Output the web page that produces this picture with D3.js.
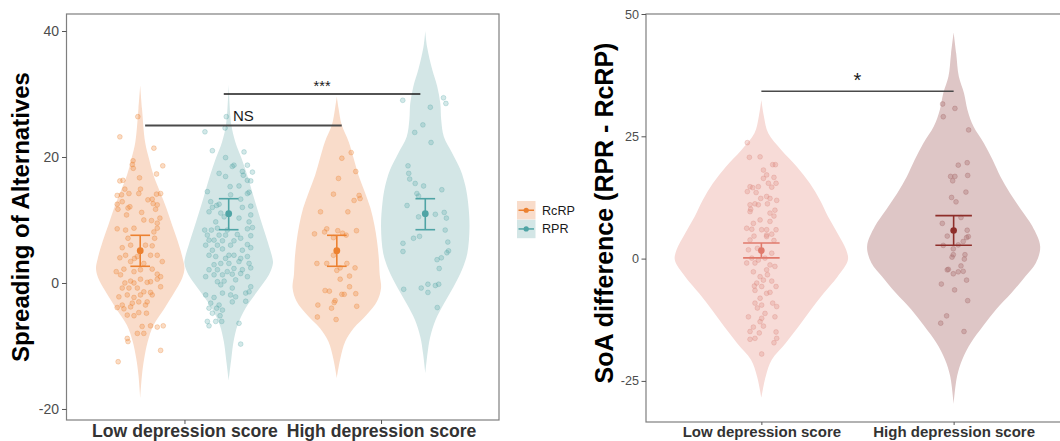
<!DOCTYPE html>
<html><head><meta charset="utf-8">
<script src="https://cdn.jsdelivr.net/npm/d3@7"></script>
<style>body{margin:0;background:#fff}svg{display:block}text{font-family:"Liberation Sans",Arial,Helvetica,sans-serif}</style>
</head><body><svg id="c" width="1060" height="441"></svg>
<script>
// ---------- DATA ----------
const categories = ["Low depression score", "High depression score"];
const groups = ["RcRP", "RPR"];
const leftTicks = [-20, 0, 20, 40];
const rightTicks = [-25, 0, 25, 50];

// summary (mean and error bar limits) per category
const rcrpMean = [5.13, 5.13], rcrpLow = [2.65, 2.65], rcrpHigh = [7.57, 7.57];
const rprMean = [11.0, 11.0], rprLow = [8.46, 8.46], rprHigh = [13.38, 13.38];
const diffMean = [1.64, 5.73], diffLow = [0.14, 2.73], diffHigh = [3.2, 8.79];

// violin profiles: [value, relative density]
const violinLowRcRP = [[31.4,0],[27.7,0.04],[22.4,0.11],[19.7,0.2],[17.1,0.3],[14.4,0.45],[11.9,0.59],[9.2,0.72],[6.6,0.85],[3.9,0.96],[2.3,1.0],[0.8,0.95],[-1.4,0.78],[-4.0,0.55],[-6.7,0.3],[-9.3,0.17],[-12.0,0.09],[-14.6,0.04],[-18.3,0]];
const violinLowRPR = [[31.5,0],[25.1,0.06],[22.4,0.15],[19.8,0.29],[17.1,0.42],[14.5,0.53],[11.9,0.64],[9.2,0.76],[6.6,0.88],[3.9,0.99],[3.1,1.0],[1.3,0.91],[-1.4,0.64],[-4.0,0.38],[-6.7,0.2],[-9.3,0.11],[-12.0,0.06],[-15.5,0]];
const violinHighRcRP = [[29.6,0],[27.7,0.04],[25.1,0.11],[22.4,0.27],[19.8,0.38],[17.1,0.49],[14.5,0.63],[11.9,0.76],[9.2,0.85],[6.6,0.91],[3.9,0.95],[1.3,0.97],[-0.8,1.0],[-2.9,0.91],[-5.0,0.68],[-7.2,0.38],[-9.3,0.19],[-12.0,0.08],[-15.1,0]];
const violinHighRPR = [[40.0,0],[37.5,0.04],[33.8,0.16],[31.2,0.27],[28.5,0.34],[25.9,0.36],[23.2,0.42],[20.6,0.61],[17.9,0.8],[15.3,0.91],[12.6,0.97],[8.9,1.0],[4.7,0.95],[2.1,0.83],[-0.6,0.64],[-3.3,0.42],[-5.9,0.23],[-8.6,0.11],[-11.2,0.05],[-14.3,0]];
const violinDiffLow = [[32.4,0],[29.0,0.03],[25.6,0.08],[22.2,0.23],[18.8,0.41],[15.4,0.56],[11.9,0.68],[8.6,0.77],[5.2,0.88],[1.8,0.98],[-0.3,1.0],[-3.7,0.88],[-7.1,0.72],[-10.5,0.57],[-13.9,0.43],[-17.3,0.28],[-20.7,0.12],[-24.1,0.05],[-28.4,0]];
const violinDiffHigh = [[46.2,0],[41.9,0.03],[37.2,0.06],[33.8,0.12],[30.4,0.16],[27.0,0.23],[23.6,0.35],[20.2,0.45],[16.8,0.54],[13.4,0.65],[10.0,0.78],[6.6,0.91],[2.5,1.0],[-0.9,0.95],[-3.6,0.83],[-7.0,0.67],[-10.4,0.49],[-13.8,0.34],[-17.2,0.2],[-20.6,0.1],[-24.0,0.04],[-29.7,0]];

// individual observations: [jitter (-1..1), value]
const pointsLowRcRP = [[-0.1,26.4],[-0.85,23.2],[0.57,21.4],[-0.3,19.4],[-0.33,18.8],[-0.29,18.2],[0.94,18.6],[0.68,17.3],[-0.85,16.2],[-0.72,16.3],[-0.03,16.7],[-0.64,14.9],[0.01,14.9],[-0.96,13.9],[-0.78,14.0],[-0.47,14.2],[-0.06,14.2],[0.68,14.1],[0.85,14.2],[0.32,13.2],[0.5,13.3],[0.54,12.6],[0.71,12.4],[-0.96,12.5],[-0.75,12.9],[-0.93,11.7],[-0.43,12.1],[-0.51,11.9],[0.06,11.2],[0.64,11.7],[-0.57,10.8],[0.82,10.3],[-0.96,8.6],[-0.61,8.4],[0.15,10.0],[0.47,9.9],[0.71,9.5],[-0.26,8.7],[0.71,8.7],[0.57,8.1],[-0.51,7.1],[-0.75,5.6],[-0.4,6.0],[0.22,6.0],[0.5,5.9],[0.6,7.1],[0.43,4.4],[0.71,4.4],[0.92,3.4],[-0.85,4.0],[-0.61,4.4],[-0.24,3.9],[-0.12,4.2],[-0.4,3.4],[0.15,3.1],[-1.0,1.8],[-0.68,2.2],[-0.26,1.8],[0.01,2.1],[0.5,2.2],[0.71,1.4],[0.85,1.0],[-0.82,1.3],[-0.64,0],[-0.4,0.3],[-0.26,0],[0.01,0.6],[0.29,0.1],[0.43,0.2],[0.71,0.6],[0.85,-0.6],[-0.75,-0.8],[-0.47,-0.8],[-0.12,-0.8],[0.15,-1.4],[0.43,-1.5],[0.5,-1.9],[-0.89,-2.2],[-0.54,-1.9],[-0.26,-2.3],[0.01,-1.9],[0.29,-3.0],[-0.75,-3.5],[-0.33,-3.2],[-0.06,-3.0],[0.22,-3.5],[-0.96,-3.9],[-0.68,-4.1],[-0.4,-3.8],[-0.54,-5.1],[-0.26,-5.2],[-0.06,-4.7],[0.26,-4.8],[0.08,-6.9],[-0.12,-8.0],[0.15,-8.0],[0.43,-6.8],[0.71,-7.0],[0.96,-6.8],[-0.54,-8.8],[-0.51,-9.3],[0.85,-10.7],[-0.92,-12.5]];
const pointsLowRPR = [[-0.99,24.0],[-0.1,26.4],[-0.15,24.6],[-0.68,21.0],[0.64,20.8],[-0.13,19.9],[0.22,18.7],[0.15,18.5],[0.78,18.7],[-0.4,17.4],[0.57,17.7],[0.61,17.1],[0.99,17.6],[0.92,16.2],[0.78,16.3],[-0.13,16.9],[0.06,15.3],[-0.89,14.5],[0.43,15.4],[0.78,14.2],[0.85,14.4],[-0.75,12.9],[-0.5,12.3],[-0.68,12.0],[-0.4,12.5],[0.08,14.0],[0.5,13.3],[0.57,12.0],[0.92,12.2],[-0.82,11.3],[-0.33,11.1],[-0.19,10.5],[0.92,10.8],[-0.54,9.7],[0.43,10.3],[0.85,9.7],[-1.0,8.4],[-0.72,8.4],[-0.47,8.7],[-0.06,8.4],[0.78,8.6],[0.99,8.8],[-0.89,7.6],[-0.4,7.6],[-0.13,7.6],[0.36,7.7],[0.92,7.5],[-0.82,6.8],[-0.61,6.8],[-0.26,6.7],[0.22,6.7],[0.5,7.1],[-0.96,6.0],[-0.47,6.0],[0.08,6.0],[0.78,6.1],[-0.68,5.2],[-0.26,5.4],[0.01,4.4],[0.57,5.2],[0.92,5.6],[-0.82,4.4],[-0.54,4.2],[-0.13,3.9],[0.22,4.4],[0.5,3.9],[0.78,4.2],[-0.61,2.9],[-0.33,3.1],[0.01,3.1],[0.43,3.4],[0.85,3.1],[-0.82,2.1],[-0.47,2.1],[-0.06,1.8],[0.22,2.3],[0.57,2.1],[0.92,2.4],[-0.96,1.0],[-0.61,1.3],[-0.26,1.3],[0.15,1.4],[0.5,1.5],[0.78,1.0],[-0.47,0.2],[-0.19,0.3],[0.29,0.5],[-0.33,-0.3],[0.15,-0.8],[0.92,-0.6],[-0.96,-1.9],[-0.61,-2.3],[-0.26,-1.6],[0.08,-1.9],[0.29,-2.2],[0.71,-1.6],[0.85,-1.4],[-0.75,-3.2],[-0.4,-3.5],[0.15,-3.0],[0.71,-2.9],[-0.82,-4.0],[-0.5,-4.0],[-0.26,-4.3],[-0.68,-4.8],[-0.36,-5.2],[-0.29,-6.1],[-0.89,-6.1],[-0.82,-6.8],[-0.54,-6.1],[0.43,-6.4],[0.5,-9.7]];
const pointsHighRcRP = [[0.6,20.7],[0.21,19.8],[0.79,17.7],[0.07,16.6],[-0.14,14.1],[0.93,13.9],[0.97,13.4],[0.72,13.1],[-0.68,11.3],[0.46,11.3],[-0.42,8.6],[-0.51,8.1],[0.04,8.3],[0.24,7.9],[0.39,7.6],[-0.93,7.8],[0.82,8.3],[-0.14,7.2],[-0.14,4.4],[-0.83,3.1],[-0.42,3.1],[0.42,3.1],[0.76,2.4],[0,2.0],[0.14,2.4],[0.53,1.1],[0.14,0.6],[0.53,-0.6],[-0.49,-1.2],[-0.31,-1.3],[0.21,-1.8],[0.31,-1.8],[0.79,-1.7],[-0.07,-2.8],[-0.11,-3.1],[-0.79,-3.5],[-0.22,-4.0],[0.83,-3.7],[-0.81,-5.4],[-0.03,-5.8]];
const pointsHighRPR = [[-0.94,29.0],[0.76,29.4],[0.86,28.5],[0.21,27.9],[-0.1,25.1],[-0.44,23.9],[0.24,22.3],[-0.72,18.6],[-0.69,17.4],[-0.65,16.5],[-0.42,15.8],[-0.07,15.4],[0.69,14.8],[-0.35,14.2],[-0.28,13.8],[-0.76,12.3],[-0.28,10.5],[0.42,10.9],[0.79,11.2],[0.88,10.3],[0.83,8.4],[-0.93,6.3],[-0.49,7.1],[-0.24,7.4],[-0.93,5.0],[0.94,6.5],[0.97,5.1],[0.9,4.8],[0.67,4.0],[0.49,3.7],[0.58,2.3],[-0.9,-1.0],[-0.17,-0.8],[0.11,-0.2],[0.11,-1.5],[0.42,-0.4],[0.56,-0.2],[0.5,-3.9]];
const pointsDiffLow = [[-0.88,23.7],[-0.75,20.7],[-0.08,20.8],[0.13,18.1],[0.71,19.2],[0.88,19.2],[0.33,17.1],[0.13,16.4],[0.79,16.6],[0.44,15.4],[-0.71,14.7],[-0.54,14.5],[-0.19,14.7],[0.92,15.4],[-0.88,13.7],[-0.33,13.5],[0.65,14.6],[0.33,12.7],[-0.04,12.3],[0.54,12.3],[0.96,11.9],[-0.71,11.0],[-0.4,11.2],[-0.19,11.0],[0.38,11.2],[-0.67,10.1],[-0.71,9.6],[0.54,9.3],[0.85,9.9],[0.79,8.7],[-0.08,7.9],[0.54,7.6],[-0.5,7.2],[-0.92,6.2],[-0.6,6.0],[0.02,5.9],[0.33,5.9],[0.92,5.9],[0.33,4.8],[0.65,5.0],[-0.46,4.6],[-0.71,3.8],[-0.81,1.8],[-0.25,2.1],[0.33,4.5],[0.79,3.7],[0.65,1.1],[-0.6,0.1],[0.23,0.1],[-0.92,-0.9],[-0.19,-0.3],[-0.4,-0.9],[0.54,-1.3],[0.85,-1.6],[0.33,-2.3],[-0.5,-2.7],[-0.08,-3.7],[0.38,-3.3],[0.13,-4.4],[0.65,-4.6],[-0.29,-5.0],[0.92,-5.7],[-0.44,-5.6],[0.02,-5.7],[-0.4,-6.5],[0.33,-7.1],[0.54,-6.9],[-0.08,-8.1],[-0.4,-9.1],[0.02,-9.5],[0.71,-9.1],[-0.25,-10.1],[0.96,-9.8],[0.23,-11.2],[0.02,-12.2],[-0.81,-11.9],[0.85,-11.9],[-0.08,-12.9],[0.13,-13.8],[-0.5,-14.0],[-0.13,-15.2],[-0.71,-14.9],[0.92,-15.0],[-0.4,-16.3],[-0.71,-16.5],[0.96,-16.3],[0.79,-17.2],[0.02,-19.5]];
const pointsDiffHigh = [[-0.69,31.6],[0.08,30.7],[-0.65,29.0],[0.94,26.3],[0.29,19.1],[0.85,19.6],[-0.19,16.8],[0.08,16.8],[-0.06,15.9],[0.88,17.0],[0.77,13.6],[-0.13,12.5],[0.15,11.6],[0.46,8.4],[-0.71,7.2],[0.85,5.8],[-0.4,4.6],[0.81,4.3],[0.6,3.5],[0.92,4.5],[-0.65,2.7],[-0.02,2.0],[0.29,2.8],[-0.1,0.3],[-0.02,0.8],[0.67,-0.1],[0.71,0.8],[0.46,-1.5],[-0.33,-2.2],[-0.4,-2.3],[0.29,-2.7],[-0.02,-3.1],[0.6,-2.6],[0.81,-4.4],[-0.77,-5.2],[0.06,-6.4],[0.88,-8.6],[-0.44,-11.7],[-0.81,-13.2],[0.65,-14.9]];

// ---------- STYLE ----------
const C = {
  rcrpFill: "#F9DCCA", rcrpDark: "#EC8130",
  rprFill: "#D3E6E6", rprDark: "#4FA4A5",
  lowFill: "#F7DBD7", lowDark: "#E07A6C", lowPt: "#DD8A80",
  highFill: "#DEC6C6", highDark: "#8E2E2A", highPt: "#A86C6C"
};
const FONT = "Liberation Sans, Arial, sans-serif";
const svg = d3.select("#c");

function violin(g, data, cx, hw, fill) {
  const area = d3.area().curve(d3.curveCatmullRom.alpha(0.5))
    .y(d => d.yy).x0(d => cx - d[1] * hw).x1(d => cx + d[1] * hw);
  g.append("path").attr("d", area(data)).attr("fill", fill).attr("stroke", "none");
}
function addViolin(g, prof, cx, hw, fill, y) {
  const d = prof.map(p => { const o = [p[0], p[1]]; o.yy = y(p[0]); return o; });
  violin(g, d, cx, hw, fill);
}
function points(g, data, cx, jw, y, col, op) {
  g.selectAll(null).data(data).enter().append("circle")
    .attr("cx", d => cx + d[0] * jw).attr("cy", d => y(d[1])).attr("r", 2.4)
    .attr("fill", col).attr("fill-opacity", op).attr("stroke", col).attr("stroke-opacity", op + 0.1).attr("stroke-width", 0.8);
}
function errbar(g, cx, m, lo, hi, cap, y, col, r) {
  g.append("line").attr("x1", cx).attr("x2", cx).attr("y1", y(lo)).attr("y2", y(hi)).attr("stroke", col).attr("stroke-width", 1.6);
  [lo, hi].forEach(v => g.append("line").attr("x1", cx - cap).attr("x2", cx + cap).attr("y1", y(v)).attr("y2", y(v)).attr("stroke", col).attr("stroke-width", 1.6));
  g.append("circle").attr("cx", cx).attr("cy", y(m)).attr("r", r).attr("fill", col);
}

// ---------- LEFT PANEL ----------
const xL = d3.scalePoint().domain(categories).range([66.5, 499]).padding(0.6);
const yL = d3.scaleLinear().domain([-21.75, 42.7]).range([420, 14]);
const stepL = xL.step();
const dodge = 0.225 * stepL, hwL = 0.225 * stepL, jwL = 0.122 * stepL, capL = 0.05 * stepL;
const gL = svg.append("g");
addViolin(gL, violinLowRcRP, xL(categories[0]) - dodge, hwL, C.rcrpFill, yL);
addViolin(gL, violinLowRPR, xL(categories[0]) + dodge, hwL, C.rprFill, yL);
addViolin(gL, violinHighRcRP, xL(categories[1]) - dodge, hwL, C.rcrpFill, yL);
addViolin(gL, violinHighRPR, xL(categories[1]) + dodge, hwL, C.rprFill, yL);
points(gL, pointsLowRcRP, xL(categories[0]) - dodge, jwL, yL, C.rcrpDark, 0.28);
points(gL, pointsLowRPR, xL(categories[0]) + dodge, jwL, yL, C.rprDark, 0.25);
points(gL, pointsHighRcRP, xL(categories[1]) - dodge, jwL, yL, C.rcrpDark, 0.28);
points(gL, pointsHighRPR, xL(categories[1]) + dodge, jwL, yL, C.rprDark, 0.25);
categories.forEach((c, i) => {
  errbar(gL, xL(c) - dodge, rcrpMean[i], rcrpLow[i], rcrpHigh[i], capL, yL, C.rcrpDark, 3.4);
  errbar(gL, xL(c) + dodge, rprMean[i], rprLow[i], rprHigh[i], capL, yL, C.rprDark, 3.4);
});
// significance
gL.append("line").attr("x1", xL(categories[0]) - 0.2 * stepL).attr("x2", xL(categories[1]) - 0.2 * stepL)
  .attr("y1", yL(25)).attr("y2", yL(25)).attr("stroke", "#4a4a4a").attr("stroke-width", 2);
gL.append("text").attr("x", (xL(categories[0]) + xL(categories[1])) / 2 - 0.2 * stepL).attr("y", yL(25) - 4.5)
  .attr("text-anchor", "middle").attr("font-size", 15).attr("fill", "#1a1a1a").text("NS");
gL.append("line").attr("x1", xL(categories[0]) + 0.2 * stepL).attr("x2", xL(categories[1]) + 0.2 * stepL)
  .attr("y1", yL(30)).attr("y2", yL(30)).attr("stroke", "#1a1a1a").attr("stroke-width", 1.5);
gL.append("text").attr("x", (xL(categories[0]) + xL(categories[1])) / 2 + 0.2 * stepL).attr("y", yL(30) - 3)
  .attr("text-anchor", "middle").attr("font-size", 14.5).attr("fill", "#1a1a1a").text("***");
// frame and axes
gL.append("rect").attr("x", 66.5).attr("y", 14).attr("width", 432.5).attr("height", 406)
  .attr("fill", "none").attr("stroke", "#7f7f7f").attr("stroke-width", 1.2);
const axYL = gL.append("g").attr("transform", "translate(66.5,0)")
  .call(d3.axisLeft(yL).tickValues(leftTicks).tickSize(4.5).tickPadding(3).tickFormat(d => String(d)));
axYL.select(".domain").remove();
axYL.selectAll("line").attr("stroke", "#555");
axYL.selectAll("text").attr("font-size", 14).attr("fill", "#4d4d4d").attr("font-family", FONT);
const axXL = gL.append("g").attr("transform", "translate(0,420)")
  .call(d3.axisBottom(xL).tickSize(4).tickPadding(1));
axXL.select(".domain").remove();
axXL.selectAll("line").attr("stroke", "#555");
axXL.selectAll("text").attr("font-size", 17.6).attr("font-weight", "bold").attr("fill", "#333").attr("font-family", FONT);
svg.append("text").attr("transform", "translate(29,217) rotate(-90)").attr("text-anchor", "middle")
  .attr("font-size", 24).attr("font-weight", "bold").attr("fill", "#000").text("Spreading of Alternatives");

// legend
const lg = svg.append("g");
[[groups[0], C.rcrpFill, C.rcrpDark], [groups[1], C.rprFill, C.rprDark]].forEach((d, i) => {
  const y0 = 201 + i * 18.7;
  lg.append("rect").attr("x", 517).attr("y", y0).attr("width", 18.5).attr("height", 18.5).attr("fill", d[1]);
  lg.append("line").attr("x1", 518.5).attr("x2", 534).attr("y1", y0 + 9.25).attr("y2", y0 + 9.25).attr("stroke", d[2]).attr("stroke-width", 1.5);
  lg.append("circle").attr("cx", 526.2).attr("cy", y0 + 9.25).attr("r", 2.6).attr("fill", d[2]);
  lg.append("text").attr("x", 542).attr("y", y0 + 13.5).attr("font-size", 12.6).attr("fill", "#1a1a1a").text(d[0]);
});

// ---------- RIGHT PANEL ----------
const xR = d3.scalePoint().domain(categories).range([646, 1069]).padding(0.6);
const yR = d3.scaleLinear().domain([-33.4, 50]).range([422, 14]);
const stepR = xR.step();
const hwR = 0.45 * stepR, jwR = 0.083 * stepR, capR = 0.095 * stepR;
const gR = svg.append("g");
addViolin(gR, violinDiffLow, xR(categories[0]), hwR, C.lowFill, yR);
addViolin(gR, violinDiffHigh, xR(categories[1]), hwR, C.highFill, yR);
points(gR, pointsDiffLow, xR(categories[0]), jwR, yR, C.lowPt, 0.3);
points(gR, pointsDiffHigh, xR(categories[1]), jwR, yR, C.highPt, 0.35);
errbar(gR, xR(categories[0]), diffMean[0], diffLow[0], diffHigh[0], capR, yR, C.lowDark, 3.3);
errbar(gR, xR(categories[1]), diffMean[1], diffLow[1], diffHigh[1], capR, yR, C.highDark, 3.3);
gR.append("line").attr("x1", xR(categories[0])).attr("x2", xR(categories[1]))
  .attr("y1", yR(34.2)).attr("y2", yR(34.2)).attr("stroke", "#4a4a4a").attr("stroke-width", 1.5);
gR.append("text").attr("x", (xR(categories[0]) + xR(categories[1])) / 2).attr("y", yR(34.2) - 4)
  .attr("text-anchor", "middle").attr("font-size", 20).attr("fill", "#1a1a1a").text("*");
gR.append("rect").attr("x", 646).attr("y", 14).attr("width", 423).attr("height", 408)
  .attr("fill", "none").attr("stroke", "#7f7f7f").attr("stroke-width", 1.2);
const axYR = gR.append("g").attr("transform", "translate(646,0)")
  .call(d3.axisLeft(yR).tickValues(rightTicks).tickSize(4.5).tickPadding(2.5).tickFormat(d => String(d)));
axYR.select(".domain").remove();
axYR.selectAll("line").attr("stroke", "#555");
axYR.selectAll("text").attr("font-size", 12.6).attr("fill", "#4d4d4d").attr("font-family", FONT);
const axXR = gR.append("g").attr("transform", "translate(0,422)")
  .call(d3.axisBottom(xR).tickSize(3).tickPadding(1));
axXR.select(".domain").remove();
axXR.selectAll("line").attr("stroke", "#555");
axXR.selectAll("text").attr("font-size", 15).attr("font-weight", "bold").attr("fill", "#333").attr("font-family", FONT);
svg.append("text").attr("transform", "translate(612.5,213) rotate(-90)").attr("text-anchor", "middle")
  .attr("font-size", 25).attr("font-weight", "bold").attr("fill", "#000").text("SoA difference (RPR - RcRP)");
</script></body></html>
